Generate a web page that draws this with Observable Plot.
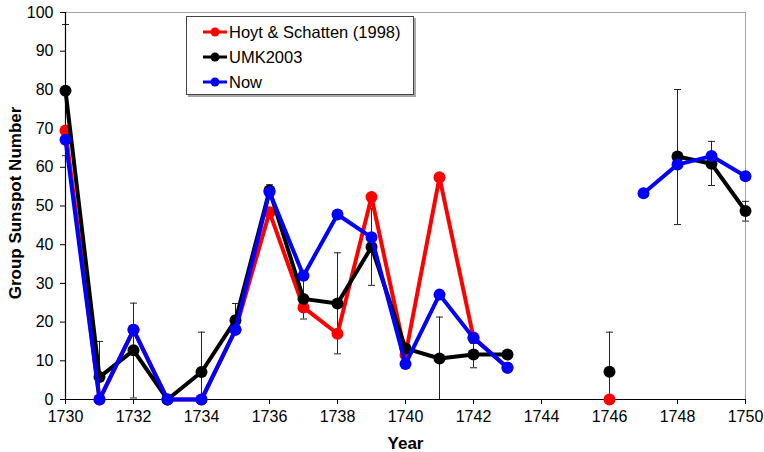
<!DOCTYPE html>
<html>
<head>
<meta charset="utf-8">
<script src="https://cdn.jsdelivr.net/npm/d3@7"></script>
<script src="https://cdn.jsdelivr.net/npm/@observablehq/plot@0.6"></script>
<style>
  body { margin: 0; background: #fff; }
  #wrap { position: relative; width: 764px; height: 452px; font-family: "Liberation Sans", Arial, sans-serif; }
  #legend { position: absolute; left: 186px; top: 16px; width: 226px; height: 77px; border: 1px solid #444; background: #fff; box-shadow: 2px 2px 0 #aaa; }
  .row { position: absolute; left: 0; height: 20px; display: flex; align-items: center; font-size: 16.5px; color: #000; white-space: nowrap; }
  .row svg { margin-left: 16px; margin-right: 2px; }
</style>
</head>
<body>
<div id="wrap"></div>
<script>
const years = d3.range(1730, 1751);
const seriesNames = ["Hoyt & Schatten (1998)", "UMK2003", "Now"];
const seriesColors = ["#ff0000", "#000000", "#0000ff"];
const hoyt = [69.5, 0, 18, 0, 0, 18, 48.4, 23.8, 17, 52.3, 11.5, 57.4, 16, 8.2, null, null, 0, null, null, null, null];
const umk  = [79.8, 5.8, 12.7, 0, 7.1, 20.5, 54, 26, 24.8, 39.4, 13.2, 10.6, 11.6, 11.6, null, null, 7.2, null, 62.8, 60.9, 48.7];
const now  = [67.1, 0, 18, 0, 0, 18, 53.6, 32, 47.8, 41.9, 9.2, 27.1, 15.9, 8.2, null, null, null, 53.3, 60.7, 62.9, 57.7];
const umkHigh = [96.9, 15, 24.9, null, 17.4, 24.8, 55.5, 31, 37.9, 49.3, null, 21.3, 14.5, null, null, null, 17.4, null, 80.1, 66.7, 51.2];
const umkLow  = [63, 0, 0.4, null, 0, 19, 52.5, 20.8, 11.8, 29.5, null, 0, 8.2, null, null, null, 0, null, 45.2, 55.3, 46.1];
const xTicks = d3.range(1730, 1751, 2);
const yTicks = d3.range(0, 101, 10);

const allSeries = [hoyt, umk, now];
const table = seriesNames.map((name, i) => years.map((yr, j) => ({series: name, year: yr, value: allSeries[i][j]})));
const errors = years.map((yr, j) => ({year: yr, lo: umkLow[j], hi: umkHigh[j]})).filter(d => d.hi != null);

const capSymbol = { draw(ctx, size) { const r = 3.5; ctx.moveTo(-r, 0); ctx.lineTo(r, 0); } };

const lineMarks = [];
table.forEach((rows, i) => {
  lineMarks.push(Plot.line(rows, {x: "year", y: "value", stroke: seriesColors[i], strokeWidth: 4, strokeLinejoin: "round"}));
  lineMarks.push(Plot.dot(rows.filter(d => d.value != null), {x: "year", y: "value", fill: seriesColors[i], r: 6}));
});

const chart = Plot.plot({
  width: 764,
  height: 452,
  marginLeft: 65,
  marginRight: 19,
  marginTop: 12,
  marginBottom: 53,
  style: {fontFamily: "'Liberation Sans', Arial, sans-serif", fontSize: "16px", color: "#000", background: "#fff"},
  x: {domain: [1730, 1750]},
  y: {domain: [0, 100]},
  marks: [
    Plot.ruleY([100], {stroke: "#a6a6a6", strokeWidth: 1}),
    Plot.ruleX([1750], {stroke: "#a6a6a6", strokeWidth: 1}),
    Plot.ruleX(errors, {x: "year", y1: "lo", y2: "hi", stroke: "#222", strokeWidth: 1}),
    Plot.dot(errors, {x: "year", y: "hi", symbol: capSymbol, stroke: "#222", strokeWidth: 1, r: 3}),
    Plot.dot(errors.filter(d => d.lo > 0.1), {x: "year", y: "lo", symbol: capSymbol, stroke: "#222", strokeWidth: 1, r: 3}),
    Plot.ruleX([1730], {stroke: "#000", strokeWidth: 1.2}),
    Plot.ruleY([0], {stroke: "#000", strokeWidth: 1.2}),
    Plot.axisX({ticks: xTicks, tickFormat: d => String(d), tickSize: 5, tickPadding: 6, label: null, stroke: "#000", fontSize: 16}),
    Plot.axisY({ticks: yTicks, tickSize: 5, tickPadding: 7, label: null, stroke: "#000", fontSize: 16}),
    Plot.text(["Year"], {frameAnchor: "bottom", dy: 44, lineAnchor: "middle", text: d => d, fontWeight: "bold", fontSize: 17}),
    Plot.text(["Group Sunspot Number"], {frameAnchor: "left", dx: -50, dy: -3, rotate: -90, textAnchor: "middle", lineAnchor: "middle", text: d => d, fontWeight: "bold", fontSize: 17}),
    ...lineMarks
  ]
});

const wrap = document.getElementById("wrap");
wrap.appendChild(chart);

const legend = document.createElement("div");
legend.id = "legend";
seriesNames.forEach((name, i) => {
  const row = document.createElement("div");
  row.className = "row";
  row.style.top = (5 + i * 25) + "px";
  row.innerHTML = `<svg width="24" height="12"><line x1="0" y1="6" x2="24" y2="6" stroke="${seriesColors[i]}" stroke-width="3"/><circle cx="12" cy="6" r="4.5" fill="${seriesColors[i]}"/></svg>`;
  const span = document.createElement("span");
  span.textContent = name;
  row.appendChild(span);
  legend.appendChild(row);
});
wrap.appendChild(legend);
</script>
</body>
</html>
